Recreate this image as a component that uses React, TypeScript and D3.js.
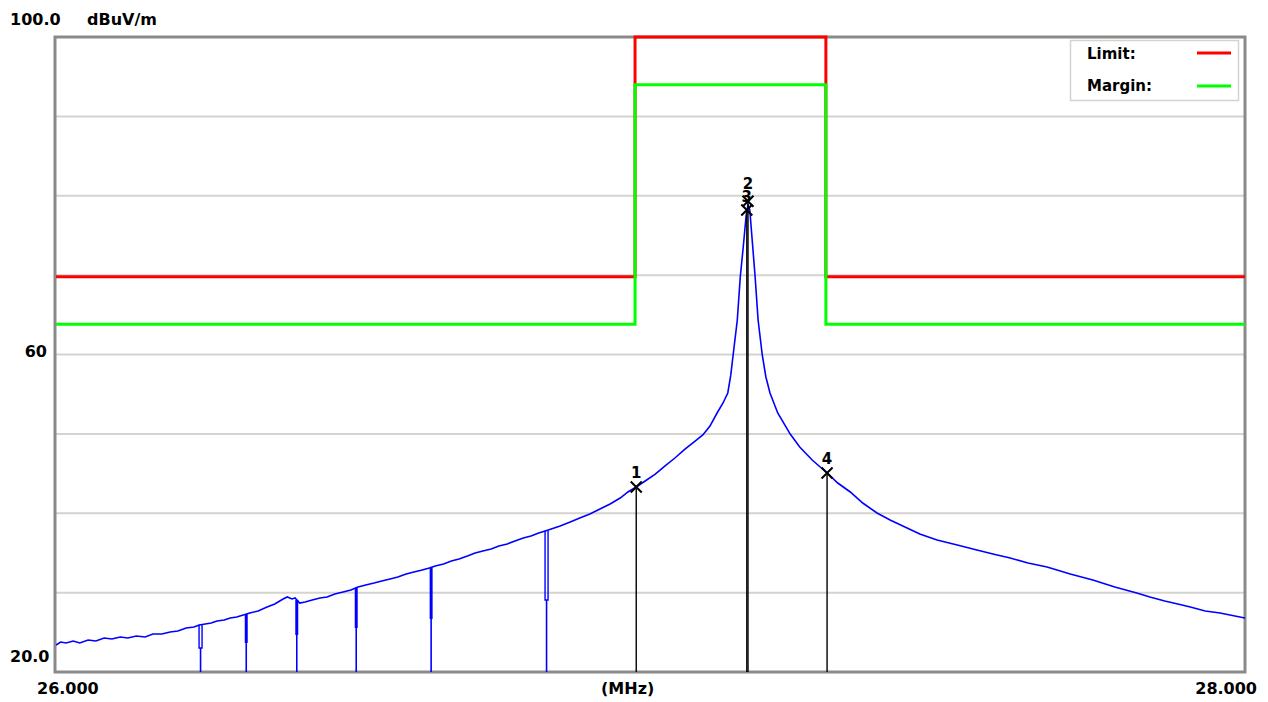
import React from "react";
import * as d3 from "d3";

// ---- data ----
const traceFreq = [
  26.0, 26.008, 26.017, 26.029, 26.04, 26.054, 26.067, 26.081, 26.094, 26.108, 26.121, 26.135, 26.15, 26.163,
  26.178, 26.192, 26.205, 26.219, 26.232, 26.241, 26.251, 26.261, 26.271, 26.283, 26.293, 26.304, 26.315,
  26.326, 26.34, 26.355, 26.368, 26.382, 26.389, 26.397, 26.402, 26.41, 26.419, 26.431, 26.444, 26.456,
  26.469, 26.483, 26.496, 26.508, 26.521, 26.535, 26.548, 26.562, 26.575, 26.589, 26.602, 26.616, 26.628,
  26.638, 26.652, 26.665, 26.678, 26.692, 26.705, 26.718, 26.732, 26.745, 26.759, 26.772, 26.786, 26.799,
  26.812, 26.823, 26.833, 26.848, 26.865, 26.881, 26.898, 26.915, 26.932, 26.949, 26.962, 26.976, 26.991,
  27.008, 27.024, 27.041, 27.058, 27.075, 27.088, 27.1, 27.112, 27.122, 27.13, 27.135, 27.139, 27.146,
  27.151, 27.156, 27.161, 27.164, 27.167, 27.172, 27.176, 27.181, 27.188, 27.194, 27.201, 27.214, 27.235,
  27.251, 27.272, 27.297, 27.315, 27.336, 27.357, 27.381, 27.403, 27.428, 27.453, 27.482, 27.516, 27.549,
  27.576, 27.605, 27.635, 27.667, 27.706, 27.744, 27.781, 27.818, 27.84, 27.865, 27.887, 27.908, 27.933,
  27.958, 27.983, 28.0,
];
const traceLevel = [
  23.4, 23.78, 23.65, 23.91, 23.65, 24.03, 23.91, 24.28, 24.16, 24.41, 24.28, 24.54, 24.41, 24.79,
  24.79, 25.04, 25.17, 25.54, 25.67, 25.92, 26.05, 26.17, 26.43, 26.55, 26.8, 26.93, 27.18,
  27.43, 27.68, 28.19, 28.56, 29.2, 29.45, 29.2, 29.32, 28.69, 28.82, 29.07, 29.32, 29.45,
  29.83, 30.08, 30.33, 30.71, 30.96, 31.21, 31.47, 31.72, 31.97, 32.35, 32.6, 32.85, 33.1,
  33.35, 33.61, 33.98, 34.24, 34.61, 34.99, 35.24, 35.5, 35.87, 36.13, 36.5, 36.88, 37.13,
  37.51, 37.76, 38.02, 38.39, 38.9, 39.4, 39.91, 40.54, 41.17, 41.92, 42.68, 43.31, 44.06,
  44.94, 45.95, 46.96, 48.09, 49.1, 49.86, 50.99, 52.63, 53.89, 55.15, 57.4, 59.94, 64.35,
  69.76, 73.54, 77.57, 78.83, 78.2, 73.54, 69.76, 64.35, 59.94, 57.2, 55.15, 52.63, 49.98,
  48.35, 46.71, 45.07, 43.81, 42.68, 41.29, 40.03, 39.15, 38.27, 37.39, 36.63, 36.0, 35.37,
  34.87, 34.36, 33.73, 33.23, 32.35, 31.59, 30.71, 29.95, 29.45, 28.94, 28.57, 28.19, 27.69,
  27.43, 27.06, 26.8,
];

// narrow drop-outs in the trace
const notchFreq = [26.244, 26.32, 26.405, 26.505, 26.631, 26.826];
const notchDepth = [23.02, 23.65, 24.66, 25.54, 26.68, 29.07];
const notchKind = ["double", "thick", "thick", "thick", "thick", "double"];

const limitFreq = [26.0, 26.974, 26.974, 27.295, 27.295, 28.0];
const limitLevel = [69.8, 69.8, 100, 100, 69.8, 69.8];
const marginLevel = [63.8, 63.8, 94, 94, 63.8, 63.8];

const markerId = ["1", "2", "3", "4"];
const markerFreq = [26.976, 27.164, 27.162, 27.297];
const markerLevel = [43.31, 79.3, 78.2, 45.07];

const yGridValues = [30, 40, 50, 60, 70, 80, 90];
const legendNames = ["Limit:", "Margin:"];
const legendColors = ["#ff0000", "#00ff00"];

// ---- layout ----
const W = 1268;
const H = 702;
const X0 = 56;
const X1 = 1245;
const Y0 = 37;
const Y1 = 672;
const FONT = "'DejaVu Sans', Verdana, sans-serif";

export default function App() {
  const x = d3.scaleLinear().domain([26, 28]).range([X0, X1]);
  const y = d3.scaleLinear().domain([20, 100]).range([Y1, Y0]);

  const tracePts: [number, number][] = traceFreq.map((f, i) => [x(f), y(traceLevel[i])]);
  const line = d3.line<[number, number]>();
  const tracePath = line(tracePts) || "";

  const stepLine = (levels: number[]) =>
    line(limitFreq.map((f, i) => [x(f), y(levels[i])] as [number, number])) || "";

  const interp = (f: number) => {
    const i = d3.bisectLeft(traceFreq, f);
    if (i <= 0) return traceLevel[0];
    if (i >= traceFreq.length) return traceLevel[traceLevel.length - 1];
    const f0 = traceFreq[i - 1], f1 = traceFreq[i];
    const t = (f - f0) / (f1 - f0);
    return traceLevel[i - 1] + t * (traceLevel[i] - traceLevel[i - 1]);
  };

  const textStyle = { fontFamily: FONT, fontWeight: 700, fontSize: 16, fill: "#000" } as const;

  return (
    <svg width={W} height={H} style={{ position: "absolute", left: 0, top: 0, background: "#fff" }}>
      <defs>
        <clipPath id="plotClip">
          <rect x={X0} y={Y0} width={X1 - X0} height={Y1 - Y0} />
        </clipPath>
      </defs>
      <rect x={0} y={0} width={W} height={H} fill="#fff" />

      {/* grid */}
      {yGridValues.map((v) => (
        <line key={v} x1={X0} x2={X1} y1={y(v)} y2={y(v)} stroke="#d6d3ce" strokeWidth={2} />
      ))}

      {/* frame */}
      <rect x={X0 - 1} y={Y0} width={X1 - X0 + 1} height={Y1 - Y0} fill="none" stroke="#8a8a8a" strokeWidth={3} />

      {/* limit & margin (margin drawn on top) */}
      <path d={stepLine(limitLevel)} fill="none" stroke="#ff0000" strokeWidth={3} />
      <path d={stepLine(marginLevel)} fill="none" stroke="#00ff00" strokeWidth={3} />

      {/* trace */}
      <g clipPath="url(#plotClip)">
        <path d={tracePath} fill="none" stroke="#0000ff" strokeWidth={1.6} />
        {notchFreq.map((f, i) => {
          const top = y(interp(f));
          const dep = y(notchDepth[i]);
          const cx = x(f);
          if (notchKind[i] === "double") {
            return (
              <g key={i} stroke="#0000ff" fill="none">
                <path
                  d={`M${cx - 2},${top} L${cx - 2},${dep} L${cx + 1},${dep} L${cx + 1},${top}`}
                  strokeWidth={1.4}
                />
                <line x1={cx - 0.5} x2={cx - 0.5} y1={dep} y2={Y1} strokeWidth={1.6} />
              </g>
            );
          }
          return (
            <g key={i} stroke="#0000ff">
              <line x1={cx} x2={cx} y1={top} y2={dep} strokeWidth={3} />
              <line x1={cx} x2={cx} y1={dep} y2={Y1} strokeWidth={1.6} />
            </g>
          );
        })}
      </g>

      {/* markers */}
      {markerId.map((id, i) => {
        const mx = x(markerFreq[i]);
        const my = y(markerLevel[i]);
        const labelOffset = id === "2" ? 12 : id === "3" ? 8 : 9;
        return (
          <g key={id}>
            <line x1={mx} x2={mx} y1={my} y2={Y1} stroke="#000" strokeWidth={1.4} />
            <path
              d={`M${mx - 5.5},${my - 5.5} L${mx + 5.5},${my + 5.5} M${mx + 5.5},${my - 5.5} L${mx - 5.5},${my + 5.5}`}
              stroke="#000"
              strokeWidth={2}
            />
            <text x={mx} y={my - labelOffset} textAnchor="middle" style={{ ...textStyle, fontSize: 15 }}>
              {id}
            </text>
          </g>
        );
      })}

      {/* legend */}
      <rect x={1070.5} y={40.5} width={168} height={60} fill="#fff" stroke="#d6d3ce" strokeWidth={1.5} />
      {legendNames.map((n, i) => (
        <g key={n}>
          <text x={1087} y={59 + i * 32} style={{ ...textStyle, fontSize: 15 }}>
            {n}
          </text>
          <line x1={1197} x2={1231} y1={53 + i * 33} y2={53 + i * 33} stroke={legendColors[i]} strokeWidth={3} />
        </g>
      ))}

      {/* axis texts */}
      <text x={10} y={25} style={textStyle}>100.0</text>
      <text x={87} y={25} style={textStyle}>dBuV/m</text>
      <text x={47} y={357} textAnchor="end" style={textStyle}>60</text>
      <text x={10} y={662} style={textStyle}>20.0</text>
      <text x={37} y={694} style={textStyle}>26.000</text>
      <text x={601} y={694} style={textStyle}>(MHz)</text>
      <text x={1257} y={694} textAnchor="end" style={textStyle}>28.000</text>
    </svg>
  );
}
